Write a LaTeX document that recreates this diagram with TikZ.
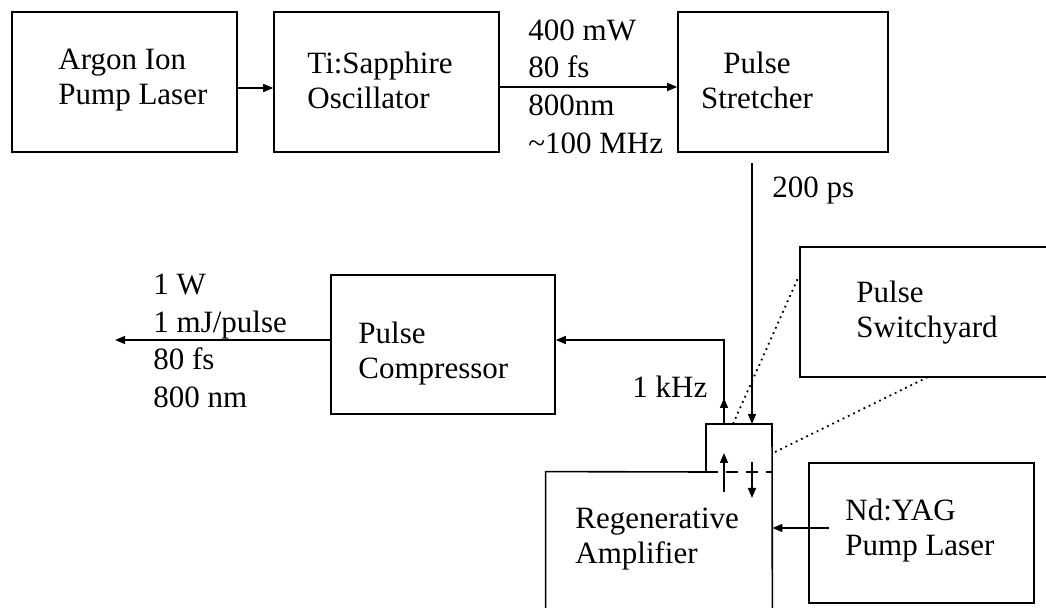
\documentclass[tikz,border=0pt]{standalone}
\usepackage{fontspec}
\setmainfont{Liberation Serif}
\usetikzlibrary{arrows.meta,positioning}
\begin{document}
\begin{tikzpicture}[x=0.5pt,y=-0.5pt]
  % Definir estilos
  \tikzset{
    caja/.style={draw, line width=0.8pt, minimum width=112.5pt, minimum height=70pt, inner sep=0pt},
    flecha/.style={-{Triangle[length=5pt,width=4pt]}, line width=0.8pt},
    punteada/.style={dotted, line width=0.9pt},
    texto/.style={anchor=west, align=left, inner sep=0pt, font=\fontsize{15.5}{17.5}\selectfont},
    datos/.style={anchor=west, align=left, inner sep=0pt, font=\fontsize{15.5}{18.8}\selectfont}
  }
  \useasboundingbox (0,0) rectangle (1046,608);
  \clip (0,0) rectangle (1046,608);

  % Cajas de la fila superior
  \node[caja] (argon) at (124.5,82) {};
  \node[caja] (ti) at (386.5,82) {};
  \node[caja, minimum width=105pt] (stretcher) at (783,82) {};
  \node[texto] at (58,80) {Argon Ion\\Pump Laser};
  \node[texto] at (307,80) {Ti:Sapphire\\Oscillator};
  \node[texto, anchor=center, align=center] at (757,80) {Pulse\\Stretcher};

  % Compresor, switchyard y bombeo
  \node[caja, minimum width=112pt, minimum height=69.5pt] (comp) at (443,344.5) {};
  \node[texto] at (358,354) {Pulse\\Compressor};
  \node[caja, minimum width=125pt, minimum height=65pt] (switch) at (925,312) {};
  \node[texto] at (856,313) {Pulse\\Switchyard};
  \node[caja] (ndyag) at (921.5,533) {};
  \node[texto] at (845,531) {Nd:YAG\\Pump Laser};

  % Amplificador regenerativo con caja pequena encima
  \node[minimum width=113pt, minimum height=74pt, inner sep=0pt] (regen) at (659,546) {};
  \node[texto] at (575,539) {Regenerative\\Amplifier};
  \coordinate (sbnw) at (706,424);
  \coordinate (sbne) at (772,424);
  \coordinate (sbsw) at (706,472);
  \coordinate (sbse) at (772,472);
  \draw[line width=0.8pt] (sbsw) -- (regen.north west) -- (regen.south west) -- (regen.south east) -- (sbne) -- (sbnw) -- (sbsw);
  \draw[line width=1.2pt, dash pattern=on 6pt off 4pt] (sbsw) -- (sbse);

  % Flechas entre cajas
  \draw[flecha] ([yshift=-3pt]argon.east) -- ([yshift=-3pt]argon.east -| ti.west);
  \draw[flecha] ([yshift=-2.5pt]ti.east) -- ([yshift=-2.5pt]ti.east -| stretcher.west);
  \draw[flecha] ([xshift=-15.5pt,yshift=-5pt]stretcher.south) -- ([xshift=-10pt]sbne);
  \draw[flecha] ([xshift=9pt]sbnw) -- ++(0,-26);
  \draw[flecha] ([xshift=9pt]sbnw) |- ([yshift=2.25pt]comp.east);
  \coordinate (salida) at (115,340);
  \draw[flecha] ([yshift=2.25pt]comp.west) -- (salida);
  \coordinate (bombeo) at (829,528);
  \draw[flecha] (bombeo) -- (bombeo -| regen.east);

  % Flechas dentro de la caja pequena
  \draw[flecha] (724,492) -- (724,453);
  \draw[flecha] (752,462) -- (752,498);

  % Lineas punteadas hacia el switchyard
  \draw[punteada] (733,424) -- (798,278);
  \draw[punteada] (775,452) -- (928,377);

  % Etiquetas de los haces
  \node[datos] at (528,86.5) {400 mW\\80 fs\\800nm\\\textasciitilde100 MHz};
  \node[datos] at (772,190) {200 ps};
  \node[datos] at (632,387) {1 kHz};
  \node[datos] at (153,341) {1 W\\1 mJ/pulse\\80 fs\\800 nm};
\end{tikzpicture}
\end{document}
